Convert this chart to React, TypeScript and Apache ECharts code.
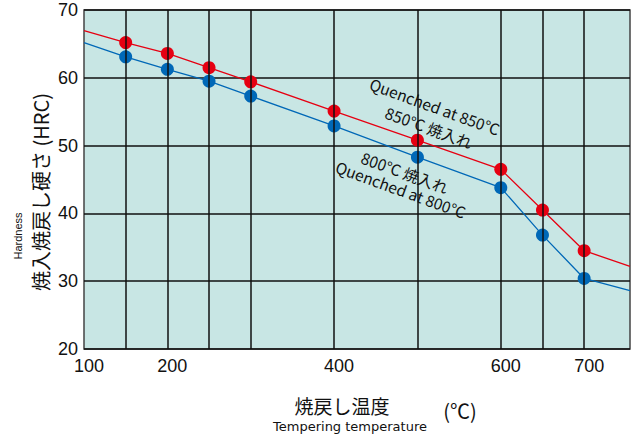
import React, { useEffect, useRef } from "react";
import * as echarts from "echarts";

const temps = [100, 150, 200, 250, 300, 400, 500, 600, 650, 700, 755];
const hardness850 = [66.95, 65.2, 63.6, 61.5, 59.4, 55.1, 50.8, 46.5, 40.5, 34.5, 32.2];
const hardness800 = [65.2, 63.1, 61.25, 59.5, 57.3, 52.9, 48.3, 43.8, 36.8, 30.4, 28.6];
const xTickLabels = [100, 200, 400, 600, 700];
const xGridValues = [150, 200, 250, 300, 400, 500, 600, 650, 700];

const RED = "#e60012";
const BLUE = "#0068b7";

function buildData(vals: number[]) {
  return temps.map((t, i) => {
    const ends = i === 0 || i === temps.length - 1;
    return ends ? { value: [t, vals[i]], symbol: "none" } : { value: [t, vals[i]] };
  });
}

export default function App() {
  const ref = useRef<HTMLDivElement>(null);
  useEffect(() => {
    if (!ref.current) return;
    const chart = echarts.init(ref.current, null, { renderer: "svg" });
    const rot = (-20 * Math.PI) / 180;
    const jp = "'Noto Sans CJK JP', 'Noto Sans', sans-serif";
    const ann = { fontSize: 15.5, fontFamily: jp, fill: "#111", textAlign: "center", textVerticalAlign: "middle" };
    chart.setOption({
      animation: false,
      grid: {
        left: 84,
        right: 5,
        top: 10,
        bottom: 90,
        show: true,
        backgroundColor: "#c8e6e4",
        borderColor: "#444",
        borderWidth: 1.5,
      },
      xAxis: {
        type: "value",
        min: 100,
        max: 755,
        interval: 50,
        axisLine: { show: false },
        axisTick: { show: false },
        splitLine: { show: false },
        axisLabel: {
          fontSize: 18,
          color: "#111",
          fontFamily: "'Liberation Sans', Arial, sans-serif",
          margin: 8,
          padding: [0, 0, 0, 10],
          showMaxLabel: false,
          formatter: (v: number) => (xTickLabels.indexOf(v) >= 0 ? String(v) : ""),
        },
      },
      yAxis: {
        type: "value",
        min: 20,
        max: 70,
        interval: 10,
        axisLine: { show: false },
        axisTick: { show: false },
        splitLine: { show: true, lineStyle: { color: "#111", width: 1.5 } },
        axisLabel: {
          fontSize: 18,
          color: "#111",
          fontFamily: "'Liberation Sans', Arial, sans-serif",
          margin: 6,
        },
      },
      series: [
        {
          type: "line",
          z: 1,
          data: buildData(hardness850),
          symbol: "none",
          lineStyle: { opacity: 0 },
          silent: true,
          markLine: {
            silent: true,
            symbol: "none",
            label: { show: false },
            lineStyle: { color: "#111", width: 1.5, type: "solid" },
            data: xGridValues.map((v) => ({ xAxis: v })),
          },
        },
        {
          type: "line",
          z: 3,
          data: buildData(hardness850),
          symbol: "circle",
          symbolSize: 13,
          itemStyle: { color: RED },
          lineStyle: { color: RED, width: 1.3 },
        },
        {
          type: "line",
          z: 3,
          data: buildData(hardness800),
          symbol: "circle",
          symbolSize: 13,
          itemStyle: { color: BLUE },
          lineStyle: { color: BLUE, width: 1.3 },
        },
      ],
      graphic: [
        { type: "text", x: 435, y: 106, rotation: rot, z: 10, style: { ...ann, text: "Quenched at 850℃" } },
        { type: "text", x: 429, y: 127, rotation: rot, z: 10, style: { ...ann, text: "850℃ 焼入れ" } },
        { type: "text", x: 405, y: 172, rotation: rot, z: 10, style: { ...ann, text: "800℃ 焼入れ" } },
        { type: "text", x: 401, y: 189, rotation: rot, z: 10, style: { ...ann, text: "Quenched at 800℃" } },
        {
          type: "text",
          x: 40,
          y: 192,
          rotation: Math.PI / 2,
          style: { text: "焼入焼戻し硬さ (HRC)", fontSize: 20, fontFamily: jp, fill: "#111", textAlign: "center", textVerticalAlign: "middle" },
        },
        {
          type: "text",
          x: 18,
          y: 236,
          rotation: Math.PI / 2,
          style: { text: "Hardness", fontSize: 11, fontFamily: "'Liberation Sans', Arial, sans-serif", fill: "#111", textAlign: "center", textVerticalAlign: "middle" },
        },
        {
          type: "text",
          x: 342,
          y: 405,
          style: { text: "焼戻し温度", fontSize: 19, fontFamily: jp, fill: "#111", textAlign: "center", textVerticalAlign: "middle" },
        },
        {
          type: "text",
          x: 350,
          y: 426,
          style: { text: "Tempering temperature", fontSize: 13, fontFamily: "'DejaVu Sans', sans-serif", fill: "#111", textAlign: "center", textVerticalAlign: "middle" },
        },
        {
          type: "text",
          x: 460,
          y: 410,
          style: { text: "(℃)", fontSize: 20, fontFamily: jp, fill: "#111", textAlign: "center", textVerticalAlign: "middle" },
        },
      ],
    });
    return () => chart.dispose();
  }, []);
  return <div ref={ref} style={{ width: 635, height: 439, position: "absolute", left: 0, top: 0 }} />;
}
